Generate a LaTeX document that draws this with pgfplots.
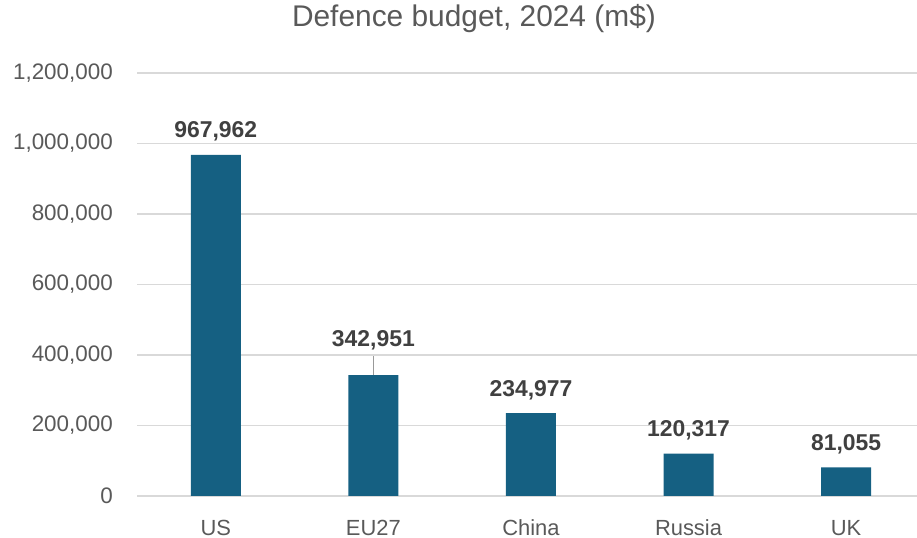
\documentclass[border=0pt]{standalone}
\usepackage{fontspec}
\setmainfont{Liberation Sans}
\usepackage{pgfplots}
\usepackage{pgfplotstable}
\pgfplotsset{compat=1.18}

\definecolor{barblue}{HTML}{156082}
\definecolor{ticktext}{HTML}{595959}
\definecolor{labeltext}{HTML}{404040}
\definecolor{gridgray}{HTML}{D9D9D9}

% x = category index, y = budget in m dollars, dy = label lift above bar top (bp)
\pgfplotstableread{
x y dy lab
0 967962 17 967,962
1 342951 29 342,951
2 234977 17 234,977
3 120317 17 120,317
4 81055 17 81,055
}\budget

\begin{document}
\begin{tikzpicture}
\useasboundingbox (0,0) rectangle (917bp,538bp);
\begin{axis}[
    at={(137bp,42bp)}, anchor=south west,
    scale only axis, width=780bp, height=423bp,
    xmin=-0.5, xmax=4.45, ymin=0, ymax=1200000,
    xtick={0,1,2,3,4}, xticklabels={US,EU27,China,Russia,UK},
    ytick={0,200000,400000,600000,800000,1000000,1200000},
    yticklabels={0,{200,000},{400,000},{600,000},{800,000},{1,000,000},{1,200,000}},
    scaled y ticks=false,
    axis line style={draw=none}, major tick length=0pt,
    ymajorgrids, major grid style={draw=gridgray, line width=1.3bp},
    tick label style={text=ticktext, inner sep=0pt},
    yticklabel style={anchor=east, xshift=-24bp, font=\fontsize{22.5}{26}\selectfont},
    xticklabel style={anchor=base, yshift=-39bp, font=\fontsize{22}{26}\selectfont},
    title={Defence budget, 2024 (m\textdollar)},
    title style={at={(rel axis cs:0.432,1.0946)}, anchor=base, inner sep=0pt,
        font=\fontsize{30}{36}\selectfont, text=ticktext},
]
\addplot[ybar, bar width=50bp, fill=barblue, draw=none,
    point meta=explicit symbolic,
    visualization depends on={\thisrow{dy}\as\dy},
    nodes near coords,
    every node near coord/.append style={anchor=base, yshift=\dy bp, inner sep=0pt,
        font=\bfseries\fontsize{23}{27}\selectfont, text=labeltext}]
    table[x=x, y=y, meta=lab] {\budget};
% leader line of the EU27 label
\addplot[draw=gray!80, line width=1bp, mark=none, forget plot]
    coordinates {(1,342951) (1,397000)};
\end{axis}
\end{tikzpicture}
\end{document}
